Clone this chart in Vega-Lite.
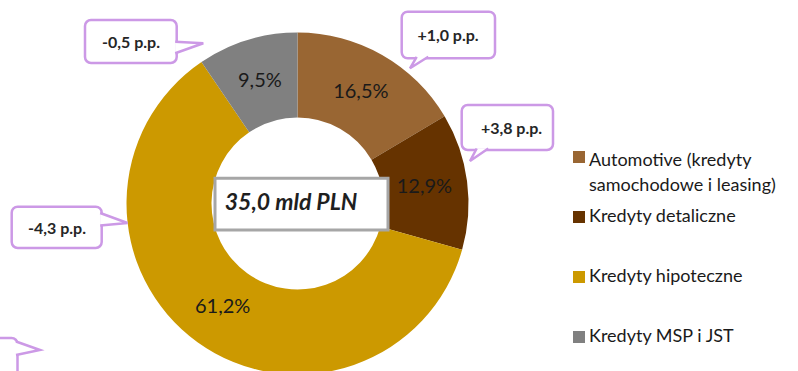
{
  "$schema": "https://vega.github.io/schema/vega-lite/v6.json",
  "width": 595,
  "height": 335,
  "autosize": {"type": "none"},
  "padding": {"left": 0, "top": 36, "right": 203, "bottom": 0},
  "background": "white",
  "config": {"view": {"stroke": null}, "font": "Lato"},
  "datasets": {
    "udzialy": [
      {"kategoria": "Automotive (kredyty samochodowe i leasing)", "udzial": 16.5, "etykieta": "16,5%", "kolejnosc": 1},
      {"kategoria": "Kredyty detaliczne", "udzial": 12.9, "etykieta": "12,9%", "kolejnosc": 2},
      {"kategoria": "Kredyty hipoteczne", "udzial": 61.2, "etykieta": "61,2%", "kolejnosc": 3},
      {"kategoria": "Kredyty MSP i JST", "udzial": 9.5, "etykieta": "9,5%", "kolejnosc": 4}
    ],
    "ramka": [
      {"tekst": "35,0 mld PLN", "x": 215, "x2": 388, "y": 178.3, "y2": 230, "tx": 291, "ty": 203}
    ],
    "dymki": [
      {"tekst": "-0,5 p.p.", "x": 85, "x2": 176.7, "y": 20, "y2": 63, "tx": 131, "ty": 42.5},
      {"tekst": "+1,0 p.p.", "x": 401.7, "x2": 495, "y": 11.7, "y2": 58.3, "tx": 448, "ty": 36},
      {"tekst": "+3,8 p.p.", "x": 461.7, "x2": 553, "y": 105, "y2": 150, "tx": 511.5, "ty": 128.5},
      {"tekst": "-4,3 p.p.", "x": 11.7, "x2": 101.7, "y": 206.7, "y2": 248, "tx": 57, "ty": 229},
      {"tekst": "", "x": -80, "x2": 17.5, "y": 338, "y2": 395, "tx": -30, "ty": 365}
    ],
    "ogonki": [
      {"dymek": 1, "krok": 1, "x": 175.2, "y": 41.7},
      {"dymek": 1, "krok": 2, "x": 203.3, "y": 43.3},
      {"dymek": 1, "krok": 3, "x": 175.2, "y": 53.3},
      {"dymek": 2, "krok": 1, "x": 416.7, "y": 56.8},
      {"dymek": 2, "krok": 2, "x": 410, "y": 68.3},
      {"dymek": 2, "krok": 3, "x": 428.3, "y": 56.8},
      {"dymek": 3, "krok": 1, "x": 476.7, "y": 148.5},
      {"dymek": 3, "krok": 2, "x": 470, "y": 161},
      {"dymek": 3, "krok": 3, "x": 488.3, "y": 148.5},
      {"dymek": 4, "krok": 1, "x": 100.2, "y": 213},
      {"dymek": 4, "krok": 2, "x": 127.5, "y": 223},
      {"dymek": 4, "krok": 3, "x": 100.2, "y": 225.5},
      {"dymek": 5, "krok": 1, "x": 16, "y": 341.5},
      {"dymek": 5, "krok": 2, "x": 40, "y": 350},
      {"dymek": 5, "krok": 3, "x": 16, "y": 355}
    ]
  },
  "layer": [
    {
      "data": {"name": "udzialy"},
      "mark": {"type": "arc", "radius": 171, "radius2": 86},
      "encoding": {
        "theta": {"field": "udzial", "type": "quantitative", "stack": true},
        "order": {"field": "kolejnosc", "type": "quantitative"},
        "color": {
          "field": "kategoria",
          "type": "nominal",
          "scale": {
            "domain": ["Automotive (kredyty samochodowe i leasing)", "Kredyty detaliczne", "Kredyty hipoteczne", "Kredyty MSP i JST"],
            "range": ["#996633", "#663300", "#cc9900", "#808080"]
          },
          "legend": {
            "orient": "none",
            "legendX": 570,
            "legendY": 112,
            "title": null,
            "padding": 0,
            "symbolType": "square",
            "symbolSize": 144,
            "symbolStrokeWidth": 0,
            "labelFont": "Lato",
            "labelFontSize": 18,
            "labelColor": "#1a1a1a",
            "labelOffset": 1,
            "labelLimit": 0,
            "rowPadding": 13,
            "gridAlign": "all",
            "labelExpr": "datum.label == 'Automotive (kredyty samochodowe i leasing)' ? ['Automotive (kredyty', 'samochodowe i leasing)'] : datum.label",
            "encode": {
              "labels": {
                "update": {
                  "lineHeight": {"value": 25},
                  "dy": {"signal": "datum.index === 0 ? 4 : 0"}
                }
              }
            }
          }
        }
      }
    },
    {
      "data": {"name": "udzialy"},
      "mark": {"type": "text", "radius": 128, "fontSize": 20, "color": "#1a1a1a", "font": "Lato"},
      "encoding": {
        "theta": {"field": "udzial", "type": "quantitative", "stack": true},
        "order": {"field": "kolejnosc", "type": "quantitative"},
        "detail": {"field": "kategoria", "type": "nominal"},
        "text": {"field": "etykieta", "type": "nominal"}
      }
    },
    {
      "data": {"name": "ramka"},
      "mark": {"type": "rect", "fill": "white", "stroke": "#a6a6a6", "strokeWidth": 3},
      "encoding": {
        "x": {"field": "x", "type": "quantitative", "scale": {"domain": [0, 595], "zero": false, "nice": false}, "axis": null},
        "x2": {"field": "x2"},
        "y": {"field": "y", "type": "quantitative", "scale": {"domain": [36, 371], "reverse": true, "zero": false, "nice": false}, "axis": null},
        "y2": {"field": "y2"}
      }
    },
    {
      "data": {"name": "ramka"},
      "mark": {"type": "text", "fontSize": 23, "fontWeight": "bold", "fontStyle": "italic", "color": "#1f1f1f", "font": "Lato", "baseline": "middle", "align": "center"},
      "encoding": {
        "x": {"field": "tx", "type": "quantitative", "scale": {"domain": [0, 595], "zero": false, "nice": false}, "axis": null},
        "y": {"field": "ty", "type": "quantitative", "scale": {"domain": [36, 371], "reverse": true, "zero": false, "nice": false}, "axis": null},
        "text": {"field": "tekst", "type": "nominal"}
      }
    },
    {
      "data": {"name": "dymki"},
      "mark": {"type": "rect", "fill": "white", "stroke": "#cc99e6", "strokeWidth": 2.5, "cornerRadius": 6},
      "encoding": {
        "x": {"field": "x", "type": "quantitative", "scale": {"domain": [0, 595], "zero": false, "nice": false}, "axis": null},
        "x2": {"field": "x2"},
        "y": {"field": "y", "type": "quantitative", "scale": {"domain": [36, 371], "reverse": true, "zero": false, "nice": false}, "axis": null},
        "y2": {"field": "y2"}
      }
    },
    {
      "data": {"name": "ogonki"},
      "mark": {"type": "line", "stroke": "#cc99e6", "strokeWidth": 2.5, "fill": "white", "strokeJoin": "miter"},
      "encoding": {
        "x": {"field": "x", "type": "quantitative", "scale": {"domain": [0, 595], "zero": false, "nice": false}, "axis": null},
        "y": {"field": "y", "type": "quantitative", "scale": {"domain": [36, 371], "reverse": true, "zero": false, "nice": false}, "axis": null},
        "detail": {"field": "dymek", "type": "nominal"},
        "order": {"field": "krok", "type": "quantitative"}
      }
    },
    {
      "data": {"name": "dymki"},
      "mark": {"type": "text", "fontSize": 16, "fontWeight": "bold", "color": "#262626", "font": "Lato", "baseline": "middle", "align": "center"},
      "encoding": {
        "x": {"field": "tx", "type": "quantitative", "scale": {"domain": [0, 595], "zero": false, "nice": false}, "axis": null},
        "y": {"field": "ty", "type": "quantitative", "scale": {"domain": [36, 371], "reverse": true, "zero": false, "nice": false}, "axis": null},
        "text": {"field": "tekst", "type": "nominal"}
      }
    }
  ]
}
